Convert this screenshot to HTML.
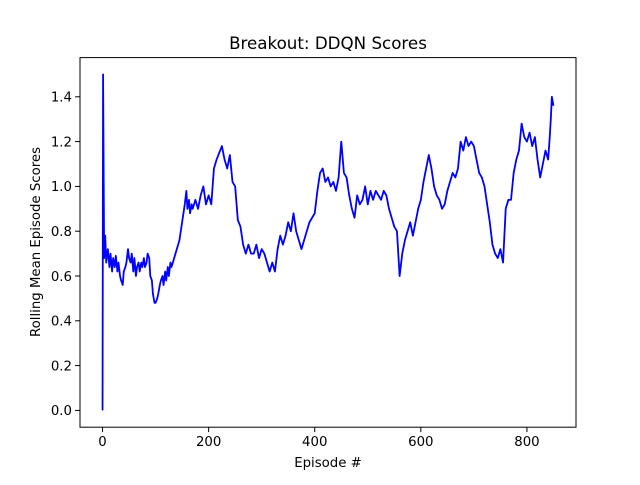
<!DOCTYPE html>
<html><head><meta charset="utf-8"><style>
body{margin:0;background:#fff}
svg text{font-family:"DejaVu Sans","Liberation Sans",sans-serif;fill:#000}
</style></head><body>
<svg id="chart" width="640" height="480">
<rect width="640" height="480" fill="#fff"/>
<text x="328" y="49" font-size="16.7" text-anchor="middle">Breakout: DDQN Scores</text>
<g id="ticks"></g>
<polyline id="line" fill="none" stroke="#0000ff" stroke-width="1.8" stroke-linejoin="round"/>
<rect x="80" y="57.6" width="496" height="369.6" fill="none" stroke="#000" stroke-width="1"/>
<text x="328" y="467" font-size="13.3" text-anchor="middle">Episode #</text>
<text transform="translate(40,242) rotate(-90)" font-size="13.3" text-anchor="middle">Rolling Mean Episode Scores</text>
</svg>
<script>
const episodes=[0,1,3,5,7,10,13,15,18,20,23,25,28,30,33,35,38,40,43,45,48,50,53,55,58,60,63,65,68,70,73,75,78,80,83,85,88,90,93,95,98,100,103,105,108,110,113,115,118,120,123,125,128,130,135,140,145,150,155,158,160,163,165,168,170,175,180,185,190,195,200,205,210,215,220,225,230,235,240,245,250,255,260,265,270,275,280,285,290,295,300,305,310,315,320,325,330,335,340,345,350,355,360,365,370,375,380,385,390,395,400,405,410,415,420,425,430,435,440,445,450,455,460,465,470,475,480,485,490,495,500,505,510,515,520,525,530,535,540,545,550,555,557,560,565,570,575,580,585,590,595,600,605,610,615,620,625,630,635,640,645,650,655,660,665,670,675,680,685,690,695,700,705,710,715,720,725,730,735,740,745,750,755,760,765,770,775,780,785,790,795,800,805,810,815,820,825,830,835,840,843,845,847,850];
const scores=[0.0,1.5,0.68,0.78,0.66,0.72,0.64,0.7,0.62,0.68,0.64,0.69,0.62,0.66,0.6,0.58,0.56,0.62,0.64,0.66,0.72,0.68,0.66,0.7,0.62,0.68,0.6,0.64,0.66,0.62,0.66,0.64,0.68,0.64,0.66,0.7,0.68,0.6,0.58,0.52,0.48,0.48,0.5,0.52,0.56,0.58,0.6,0.56,0.62,0.58,0.64,0.6,0.66,0.64,0.68,0.72,0.76,0.84,0.92,0.98,0.9,0.94,0.88,0.92,0.9,0.94,0.9,0.96,1.0,0.92,0.96,0.92,1.08,1.12,1.15,1.18,1.12,1.08,1.14,1.02,1.0,0.85,0.82,0.74,0.7,0.74,0.7,0.7,0.74,0.68,0.72,0.7,0.66,0.62,0.66,0.62,0.72,0.78,0.74,0.78,0.84,0.8,0.88,0.8,0.76,0.72,0.76,0.8,0.84,0.86,0.88,0.98,1.06,1.08,1.02,1.04,1.0,1.02,0.98,1.04,1.2,1.06,1.04,0.96,0.9,0.86,0.96,0.92,0.94,1.0,0.92,0.98,0.94,0.98,0.96,0.94,0.98,0.96,0.9,0.86,0.82,0.8,0.72,0.6,0.7,0.76,0.8,0.84,0.78,0.84,0.9,0.94,1.02,1.08,1.14,1.08,1.0,0.96,0.94,0.9,0.92,0.98,1.02,1.06,1.04,1.08,1.2,1.16,1.22,1.18,1.2,1.18,1.12,1.06,1.04,1.0,0.92,0.84,0.74,0.7,0.68,0.72,0.66,0.9,0.94,0.94,1.06,1.12,1.16,1.28,1.22,1.2,1.24,1.18,1.22,1.12,1.04,1.1,1.16,1.12,1.22,1.3,1.4,1.36,1.38,1.32,1.26];
const xTicks=[0,200,400,600,800];
const yTicks=[0.0,0.2,0.4,0.6,0.8,1.0,1.2,1.4];
const X0=80,X1=576,Y0=427.2,Y1=57.6,xmin=-42.5,xmax=892.5,ymin=-0.075,ymax=1.575;
const sx=v=>X0+(v-xmin)/(xmax-xmin)*(X1-X0);
const sy=v=>Y0-(v-ymin)/(ymax-ymin)*(Y0-Y1);
const NS="http://www.w3.org/2000/svg";
const g=document.getElementById('ticks');
xTicks.forEach(t=>{
 const l=document.createElementNS(NS,'line');
 l.setAttribute('x1',sx(t));l.setAttribute('x2',sx(t));l.setAttribute('y1',Y0);l.setAttribute('y2',Y0+4.9);l.setAttribute('stroke','#000');
 
 
 g.appendChild(l);
 const tx=document.createElementNS(NS,'text');
 tx.setAttribute('x',sx(t));tx.setAttribute('y',Y0+19);tx.setAttribute('font-size','13.3');tx.setAttribute('text-anchor','middle');
 tx.textContent=t;
 
 
 g.appendChild(tx);
});
yTicks.forEach(t=>{
 const l=document.createElementNS(NS,'line');
 l.setAttribute('x1',X0-4.9);l.setAttribute('x2',X0);l.setAttribute('y1',sy(t));l.setAttribute('y2',sy(t));l.setAttribute('stroke','#000');
 
 
 g.appendChild(l);
 const tx=document.createElementNS(NS,'text');
 tx.setAttribute('x',X0-8);tx.setAttribute('y',sy(t)+4.8);tx.setAttribute('font-size','13.3');tx.setAttribute('text-anchor','end');
 tx.textContent=t.toFixed(1);
 
 
 g.appendChild(tx);
});
document.getElementById('line').setAttribute('points',episodes.map((e,i)=>sx(e)+','+sy(scores[i])).join(' '));
</script>
</body></html>
